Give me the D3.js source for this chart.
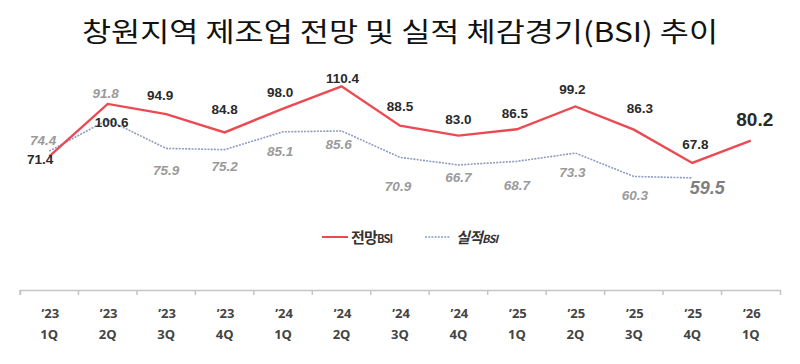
<!DOCTYPE html>
<html>
<head>
<meta charset="utf-8">
<script src="https://cdn.jsdelivr.net/npm/d3@7"></script>
<style>
  body { margin: 0; background: #fff; }
  svg { display: block; }
</style>
</head>
<body>
<svg id="canvas"></svg>
<script>
const title = '창원지역 제조업 전망 및 실적 체감경기(BSI) 추이'

const years = ['’23', '’23', '’23', '’23', '’24', '’24', '’24', '’24', '’25', '’25', '’25', '’25', '’26']
const quarters = ['1Q', '2Q', '3Q', '4Q', '1Q', '2Q', '3Q', '4Q', '1Q', '2Q', '3Q', '4Q', '1Q']

const outlookBSI = [71.4, 100.6, 94.9, 84.8, 98.0, 110.4, 88.5, 83.0, 86.5, 99.2, 86.3, 67.8, 80.2]
const actualBSI = [74.4, 91.8, 75.9, 75.2, 85.1, 85.6, 70.9, 66.7, 68.7, 73.3, 60.3, 59.5]

// label nudges (dx, dy from the point), as placed in the original chart
const outlookOffsets = [[-9, 3], [4, 19], [-6, -19], [0, -23], [-3, -16], [1, -8], [0, -19],
                        [0, -16], [-2, -16], [-3, -17], [6, -21], [3, -18], [4, -21]]
const actualOffsets = [[-6, -11], [-2, -26], [0, 22], [0, 17], [-3, 20], [-3, 14], [-2, 29],
                       [0, 13], [0, 24], [-3, 19], [1, 19], [15, 10]]

const width = 800
const height = 364

let svg = d3.select('#canvas')
    .attr('width', width)
    .attr('height', height)

let keys = years.map((y, i) => i)

let xScale = d3.scaleBand()
    .domain(keys)
    .range([20, 780])

let yScale = d3.scaleLinear()
    .domain([0, 130])
    .range([285, 51])

let cx = (i) => xScale(i) + xScale.bandwidth() / 2

// title
svg.append('text')
    .attr('x', 400)
    .attr('y', 42)
    .attr('text-anchor', 'middle')
    .attr('font-family', 'Noto Sans CJK KR')
    .attr('font-size', 27)
    .attr('fill', '#111')
    .attr('textLength', 636)
    .attr('lengthAdjust', 'spacingAndGlyphs')
    .text(title)

// x axis
let xAxis = d3.axisBottom(xScale)
    .tickSize(5)
    .tickSizeOuter(5)
    .tickFormat('')

let axisG = svg.append('g')
    .attr('transform', 'translate(0,290)')
    .call(xAxis)

axisG.select('.domain')
    .attr('stroke', '#c4c4c4')
    .attr('stroke-width', 1.5)
// move ticks to band edges
axisG.selectAll('.tick')
    .attr('transform', (d) => 'translate(' + xScale(d) + ',0)')
axisG.selectAll('.tick line')
    .attr('stroke', '#c4c4c4')
    .attr('stroke-width', 1.5)

let labelG = svg.append('g')
    .attr('font-family', 'Open Sans, Liberation Sans, sans-serif')
    .attr('font-weight', 'bold')
    .attr('font-size', 13)
    .attr('fill', '#444')
    .attr('text-anchor', 'middle')

labelG.selectAll('.yr')
    .data(keys)
    .enter()
    .append('text')
    .attr('x', (d) => cx(d) + 1)
    .attr('y', 318)
    .text((d) => years[d])

labelG.selectAll('.qt')
    .data(keys)
    .enter()
    .append('text')
    .attr('x', (d) => cx(d))
    .attr('y', 339)
    .text((d) => quarters[d])

// lines
let line = d3.line()
    .x((d, i) => cx(i))
    .y((d) => yScale(d))

svg.append('path')
    .datum(actualBSI)
    .attr('d', line)
    .attr('fill', 'none')
    .attr('stroke', '#8e9cc4')
    .attr('stroke-width', 1.6)
    .attr('stroke-dasharray', '2,1.2')

svg.append('path')
    .datum(outlookBSI)
    .attr('d', line)
    .attr('fill', 'none')
    .attr('stroke', '#ec4a52')
    .attr('stroke-width', 2.4)

// value labels
svg.selectAll('.act-label')
    .data(actualBSI)
    .enter()
    .append('text')
    .attr('class', 'act-label')
    .attr('x', (d, i) => cx(i) + actualOffsets[i][0])
    .attr('y', (d, i) => yScale(d) + actualOffsets[i][1])
    .attr('dominant-baseline', 'central')
    .attr('text-anchor', 'middle')
    .attr('font-family', 'Liberation Sans, Arial, sans-serif')
    .attr('font-style', 'italic')
    .attr('font-weight', 'bold')
    .attr('font-size', (d, i) => i === actualBSI.length - 1 ? 18 : 13.5)
    .attr('fill', (d, i) => i === actualBSI.length - 1 ? '#7f7f7f' : '#9a9a9a')
    .text((d) => d.toFixed(1))

svg.selectAll('.out-label')
    .data(outlookBSI)
    .enter()
    .append('text')
    .attr('class', 'out-label')
    .attr('x', (d, i) => cx(i) + outlookOffsets[i][0])
    .attr('y', (d, i) => yScale(d) + outlookOffsets[i][1])
    .attr('dominant-baseline', 'central')
    .attr('text-anchor', 'middle')
    .attr('font-family', 'Liberation Sans, Arial, sans-serif')
    .attr('font-weight', 'bold')
    .attr('font-size', (d, i) => i === outlookBSI.length - 1 ? 19 : 13.5)
    .attr('fill', '#2a2a2a')
    .text((d) => d.toFixed(1))

// legend
let legend = svg.append('g')
    .attr('font-family', 'Noto Sans CJK KR')
    .attr('font-weight', 'bold')
    .attr('fill', '#333')

legend.append('line')
    .attr('x1', 322).attr('x2', 348)
    .attr('y1', 237).attr('y2', 237)
    .attr('stroke', '#ec4a52')
    .attr('stroke-width', 2)

let t1 = legend.append('text')
    .attr('x', 351)
    .attr('y', 243)
    .attr('font-size', 15)
    .attr('letter-spacing', -0.8)
t1.append('tspan').text('전망')
t1.append('tspan').attr('font-size', 11).text('BSI')

legend.append('line')
    .attr('x1', 425).attr('x2', 450)
    .attr('y1', 237).attr('y2', 237)
    .attr('stroke', '#8e9cc4')
    .attr('stroke-width', 1.5)
    .attr('stroke-dasharray', '2,1.2')

let t2 = legend.append('text')
    .attr('x', 456)
    .attr('y', 243)
    .attr('font-size', 15)
    .attr('font-style', 'italic')
    .attr('letter-spacing', -0.8)
t2.append('tspan').text('실적')
t2.append('tspan').attr('font-size', 11).text('BSI')
</script>
</body>
</html>
